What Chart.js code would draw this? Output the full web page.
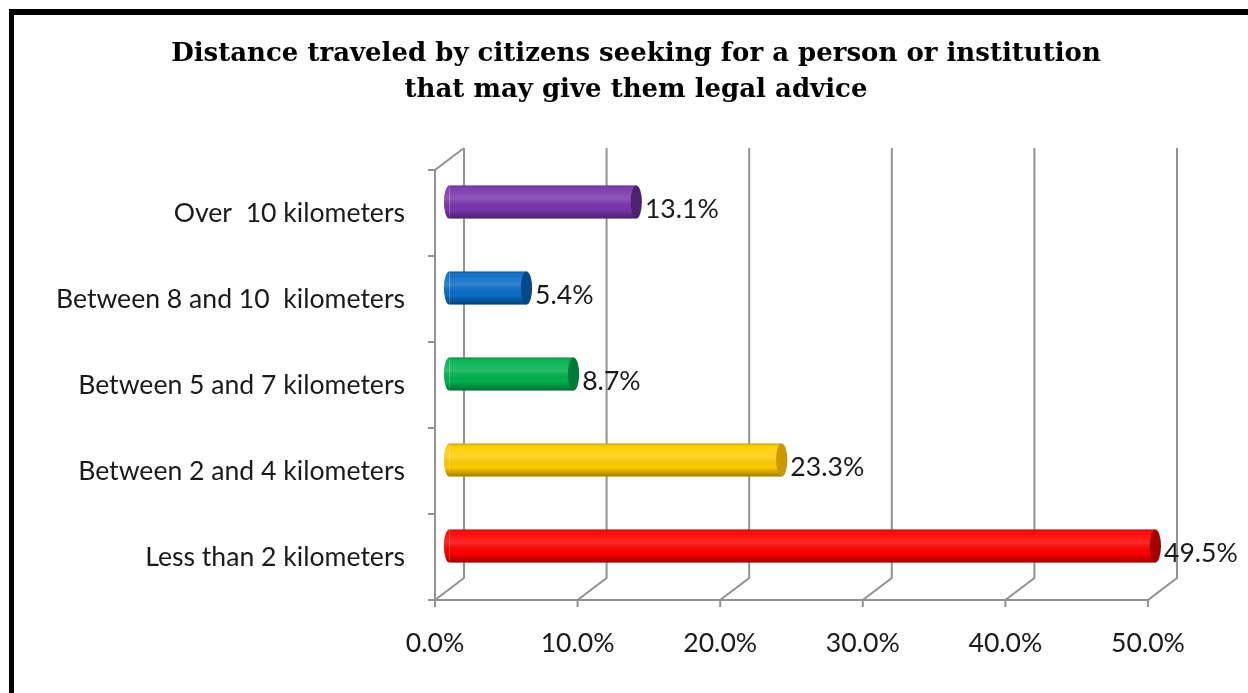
<!DOCTYPE html>
<html>
<head>
<meta charset="utf-8">
<title>Distance traveled for legal advice</title>
<script src="https://cdn.jsdelivr.net/npm/chart.js@4.4.1/dist/chart.umd.min.js"></script>
<style>
  html, body { margin: 0; padding: 0; background: #fff; }
  canvas { display: block; }
</style>
</head>
<body>
<canvas id="bar-chart" width="1248" height="693"></canvas>
<script>
const categories = ['Over  10 kilometers', 'Between 8 and 10  kilometers', 'Between 5 and 7 kilometers', 'Between 2 and 4 kilometers', 'Less than 2 kilometers'];
const percentages = [13.1, 5.4, 8.7, 23.3, 49.5];
const barColors = ['#7a36ad', '#0a6cc6', '#00b24f', '#ffcc00', '#ff0000'];
const capColors = ['#4e2173', '#05498a', '#007a37', '#c99a00', '#a30000'];
const xTicks = [0, 10, 20, 30, 40, 50];

// back wall sits this far right / up of the front plane
const depthX = 29, depthY = -22;
const labelFont = { family: 'Lato', size: 26.6 };

const box3d = {
    id: 'box3d',
    beforeDraw(chart) {
        const ctx = chart.ctx;
        ctx.save();
        ctx.fillStyle = '#fff';
        ctx.fillRect(0, 0, chart.width, chart.height);
        // frame line round the picture (top and left visible)
        ctx.fillStyle = '#000';
        ctx.fillRect(9, 9, chart.width - 9, 6);
        ctx.fillRect(9, 9, 5, chart.height - 9);
        ctx.restore();
    },
    beforeDatasetsDraw(chart) {
        const ctx = chart.ctx;
        const a = chart.chartArea;
        const xs = chart.scales.x, ys = chart.scales.y;
        const half = (ys.getPixelForValue(1) - ys.getPixelForValue(0)) / 2;

        ctx.save();
        ctx.strokeStyle = '#929292';
        ctx.lineWidth = 2;
        ctx.beginPath();
        // left wall
        ctx.moveTo(a.left, a.bottom);
        ctx.lineTo(a.left, a.top);
        ctx.lineTo(a.left + depthX, a.top + depthY);
        // floor front edge
        ctx.moveTo(a.left, a.bottom);
        ctx.lineTo(a.right, a.bottom);
        // floor diagonals + back wall grid
        xTicks.forEach(v => {
            const px = xs.getPixelForValue(v);
            ctx.moveTo(px, a.bottom + 7);
            ctx.lineTo(px, a.bottom);
            ctx.lineTo(px + depthX, a.bottom + depthY);
            ctx.lineTo(px + depthX, a.top + depthY);
        });
        // category tick marks
        categories.forEach((c, i) => {
            const py = ys.getPixelForValue(i) - half;
            ctx.moveTo(a.left - 7, py);
            ctx.lineTo(a.left, py);
        });
        ctx.moveTo(a.left - 7, a.bottom);
        ctx.lineTo(a.left, a.bottom);
        ctx.stroke();
        ctx.restore();

        // bars stand halfway into the box
        ctx.save();
        ctx.translate(depthX / 2, depthY / 2);
    },
    afterDatasetsDraw(chart) {
        const ctx = chart.ctx;
        const meta = chart.getDatasetMeta(0);
        meta.data.forEach((bar, i) => {
            const p = bar.getProps(['x', 'y', 'base', 'height'], true);
            const h = p.height, top = p.y - h / 2, rx = h * 0.17;

            // rounded near end
            ctx.fillStyle = barColors[i];
            ctx.beginPath();
            ctx.ellipse(p.base, p.y, rx, h / 2, 0, Math.PI / 2, Math.PI * 1.5);
            ctx.fill();

            // cylinder shading
            const g = ctx.createLinearGradient(0, top, 0, top + h);
            g.addColorStop(0, 'rgba(0,0,0,0.22)');
            g.addColorStop(0.12, 'rgba(255,255,255,0.05)');
            g.addColorStop(0.4, 'rgba(255,255,255,0.16)');
            g.addColorStop(0.72, 'rgba(0,0,0,0)');
            g.addColorStop(1, 'rgba(0,0,0,0.38)');
            ctx.fillStyle = g;
            ctx.beginPath();
            ctx.ellipse(p.base, p.y, rx, h / 2, 0, Math.PI / 2, Math.PI * 1.5);
            ctx.lineTo(p.x, top);
            ctx.lineTo(p.x, top + h);
            ctx.closePath();
            ctx.fill();

            // far end cap
            ctx.fillStyle = capColors[i];
            ctx.beginPath();
            ctx.ellipse(p.x, p.y, rx, h / 2, 0, 0, Math.PI * 2);
            ctx.fill();

            // value label
            ctx.fillStyle = '#1a1a1a';
            ctx.font = labelFont.size + 'px ' + labelFont.family;
            ctx.textAlign = 'left';
            ctx.textBaseline = 'middle';
            ctx.fillText(percentages[i].toFixed(1) + '%', p.x + rx + 3, p.y + 7);
        });
        ctx.restore();
    }
};

document.addEventListener('DOMContentLoaded', function () {
    const cv = document.getElementById('bar-chart');
    new Chart(cv, {
        type: 'bar',
        data: {
            labels: categories,
            datasets: [{
                data: percentages,
                backgroundColor: barColors,
                borderWidth: 0,
                barPercentage: 0.384,
                categoryPercentage: 1,
                clip: false
            }]
        },
        plugins: [box3d],
        options: {
            responsive: false,
            animation: false,
            indexAxis: 'y',
            layout: { padding: { left: 24, right: 0, top: 0, bottom: 0 } },
            plugins: {
                legend: { display: false },
                tooltip: { enabled: false },
                title: {
                    display: true,
                    text: ['Distance traveled by citizens seeking for a person or institution', 'that may give them legal advice'],
                    color: '#000',
                    font: { family: 'DejaVu Serif', size: 26, weight: 'bold', lineHeight: 1.385 },
                    padding: { top: 36, bottom: 62 }
                }
            },
            scales: {
                x: {
                    min: 0,
                    max: 50,
                    grid: { display: false },
                    border: { display: false },
                    ticks: {
                        stepSize: 10,
                        color: '#1a1a1a',
                        font: labelFont,
                        padding: 19,
                        callback: v => v.toFixed(1) + '%'
                    },
                    afterFit(s) { s.height = 93; }
                },
                y: {
                    grid: { display: false },
                    border: { display: false },
                    ticks: { color: '#1a1a1a', font: labelFont, padding: 22 },
                    afterFit(s) { s.width = 411; }
                },
                // empty strip on the right so the plot ends at 50%
                y2: {
                    type: 'category',
                    position: 'right',
                    grid: { display: false },
                    border: { display: false },
                    ticks: { display: false },
                    afterFit(s) { s.width = 100; }
                }
            }
        }
    });
});
</script>
</body>
</html>
